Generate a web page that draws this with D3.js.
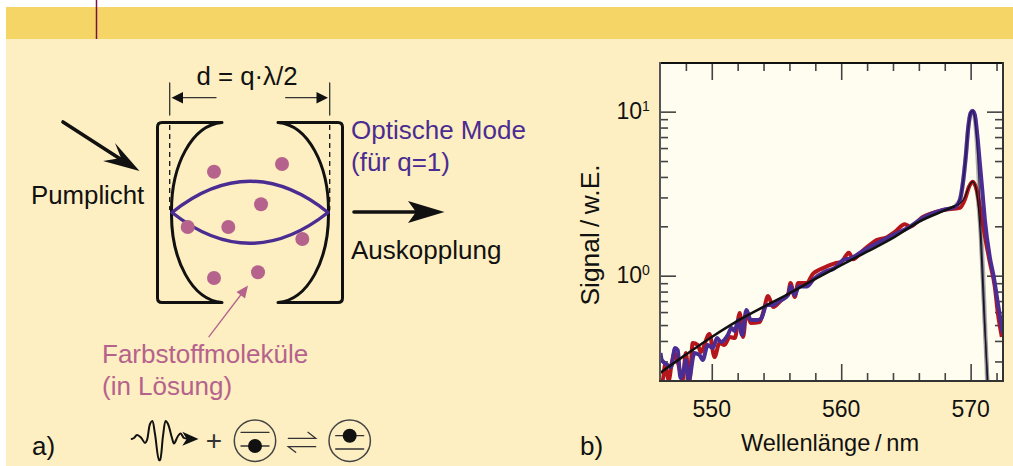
<!DOCTYPE html>
<html>
<head>
<meta charset="utf-8">
<script src="https://cdn.jsdelivr.net/npm/d3@7"></script>
<style>
  html, body { margin: 0; padding: 0; background: #fff; }
  text { font-family: "Liberation Sans", Arial, sans-serif; }
</style>
</head>
<body>
<div id="chart"></div>
<script>
var redWave = [546,546.21,546.39,546.68,546.91,547.12,547.37,547.76,547.99,548.28,548.53,548.92,549.15,549.82,550.21,550.6,550.98,551.39,551.78,552.16,552.42,552.68,553.01,553.71,553.96,554.35,554.74,555.39,555.9,556.08,556.41,556.67,557.32,557.83,558.35,558.73,559.12,559.5,560.02,560.59,560.92,561.57,562.21,562.73,563.5,564.14,564.92,565.3,566.3,567.85,569.17,569.55,569.88,570.15,570.47,570.71,570.94,571.1,571.48,571.87,572.1,572.41];
var redSignal = [0.228,0.231,0.285,0.231,0.294,0.338,0.298,0.231,0.338,0.231,0.389,0.378,0.343,0.441,0.319,0.389,0.378,0.423,0.417,0.593,0.423,0.601,0.515,0.522,0.593,0.752,0.644,0.711,0.773,0.902,0.741,0.902,0.902,1.03,1.09,1.125,1.16,1.19,1.217,1.38,1.26,1.4,1.54,1.65,1.71,1.85,2.06,1.99,2.28,2.51,2.59,2.9,3.49,3.74,3.33,2.63,2.1,1.75,1.21,0.853,0.593,0.423];
var blueWave = [546.04,546.14,546.6,546.85,547.16,547.37,547.58,547.76,548.01,548.22,548.66,549.05,549.3,549.69,550.08,550.41,550.7,551.24,551.52,551.78,552.03,552.34,552.68,553.01,553.58,553.84,554.23,554.74,555.12,555.9,556.1,556.41,556.72,557.34,557.88,558.73,559.5,560.15,560.8,561.2,562.09,563,564,565.15,566.3,567.85,568.78,569.17,569.43,569.62,569.82,570,570.15,570.33,570.5,570.71,570.92,571.1,571.48,571.79,572.1,572.47];
var blueSignal = [0.338,0.306,0.285,0.277,0.362,0.352,0.238,0.248,0.306,0.231,0.338,0.328,0.306,0.378,0.362,0.417,0.394,0.435,0.48,0.46,0.537,0.435,0.618,0.537,0.537,0.552,0.662,0.662,0.692,0.762,0.865,0.762,0.859,0.859,0.955,1.057,1.114,1.247,1.282,1.337,1.475,1.611,1.771,1.954,2.249,2.514,2.623,2.9,3.83,5.3,8.07,9.8,10.1,9.55,7.41,4.87,3.19,2.19,1.3,0.982,0.682,0.448];

// fitted curves: common slope, then one for each peak height
var fitWave = [546,548,550,552,554,556,558,560,562,564,566,568,568.8];
var fitSignal = [0.255,0.33,0.423,0.53,0.645,0.78,0.955,1.16,1.4,1.7,2.13,2.5,2.66];
var lowWave = [568.8,569.17,569.55,569.88,570.15,570.4,570.6,570.75,570.9,571.05,571.32];
var lowSignal = [2.66,2.75,3.0,3.5,3.74,3.45,2.6,1.8,1.0,0.55,0.228];
var highWave = [568.8,569.17,569.43,569.62,569.82,570,570.15,570.33,570.5,570.65,570.8,570.95,571.28];
var highSignal = [2.66,2.9,3.83,5.3,8.07,9.8,10.1,9.0,6.2,3.6,1.9,1.05,0.228];

var xMajor = [550,560,570];
var xMinor = [548,552,554,556,558,562,564,566,568,572];
var yMajor = [1,10];
var yMinor = [0.3,0.4,0.5,0.6,0.7,0.8,0.9,2,3,4,5,6,7,8,9];

var svgWidth = 1013;
var svgHeight = 466;

var colorBlack = "#111";
var colorPurple = "#4a2c92";
var colorPink = "#b5628d";
var colorRed = "#b5161c";

var svg = d3.select("#chart")
  .append("svg")
  .attr("width", svgWidth)
  .attr("height", svgHeight)
  .style("display", "block");

// page background and banner
svg.append("rect").attr("x", 6).attr("y", 7).attr("width", svgWidth - 6).attr("height", svgHeight - 7).attr("fill", "#fdefc1");
svg.append("rect").attr("x", 6).attr("y", 7).attr("width", svgWidth - 6).attr("height", 32).attr("fill", "#f5d565");
svg.append("line").attr("x1", 96.5).attr("x2", 96.5).attr("y1", 0).attr("y2", 39).attr("stroke", "#7d1045").attr("stroke-width", 1.5);

// ---- panel b: spectrum ----
var plot = {left: 660, right: 1003, top: 63, bottom: 381};

var xScale = d3.scaleLinear().domain([546, 572.5]).range([plot.left, plot.right]);
var yScale = d3.scaleLog().domain([0.228, 19.8]).range([plot.bottom, plot.top]);

svg.append("rect")
  .attr("x", plot.left).attr("y", plot.top)
  .attr("width", plot.right - plot.left).attr("height", plot.bottom - plot.top)
  .attr("fill", "#fffdf0");

svg.append("clipPath").attr("id", "plotClip")
  .append("rect")
  .attr("x", plot.left).attr("y", plot.top)
  .attr("width", plot.right - plot.left).attr("height", plot.bottom - plot.top);

// ticks on all four sides, labels are added by hand below
function addTicks(axis, x, y, values, size) {
  var g = svg.append("g")
    .attr("transform", `translate(${x}, ${y})`)
    .call(axis.tickValues(values).tickSize(size).tickFormat(""));
  g.select(".domain").remove();
  g.selectAll("line").attr("stroke", "#444").attr("stroke-width", 1.6);
}

addTicks(d3.axisTop(xScale), 0, plot.bottom, xMajor, 17);
addTicks(d3.axisTop(xScale), 0, plot.bottom, xMinor, 8);
addTicks(d3.axisBottom(xScale), 0, plot.top, xMajor, 17);
addTicks(d3.axisBottom(xScale), 0, plot.top, xMinor, 8);
addTicks(d3.axisRight(yScale), plot.left, 0, yMajor, 16);
addTicks(d3.axisRight(yScale), plot.left, 0, yMinor, 8);
addTicks(d3.axisLeft(yScale), plot.right, 0, yMajor, 16);
addTicks(d3.axisLeft(yScale), plot.right, 0, yMinor, 8);

// zip the wavelength and signal arrays for d3.line
function pairs(wave, signal) {
  return wave.map((d, i) => [d, signal[i]]);
}

var spectrumLine = d3.line()
  .x(d => xScale(d[0]))
  .y(d => yScale(d[1]))
  .curve(d3.curveMonotoneX);

var curves = svg.append("g").attr("clip-path", "url(#plotClip)").attr("fill", "none").attr("stroke-linejoin", "round");

// grey halo of the fits goes under the thin black line
function addCurve(wave, signal, color, width, opacity) {
  curves.append("path")
    .attr("d", spectrumLine(pairs(wave, signal)))
    .attr("stroke", color)
    .attr("stroke-width", width)
    .attr("stroke-opacity", opacity);
}

addCurve(highWave, highSignal, "#777", 4.4, 0.55);
addCurve(lowWave, lowSignal, "#777", 3.6, 0.55);
addCurve(redWave, redSignal, colorRed, 4, 1);
addCurve(blueWave, blueSignal, colorPurple, 4, 1);
addCurve(fitWave, fitSignal, colorBlack, 2.6, 1);
addCurve(lowWave, lowSignal, colorBlack, 1.3, 1);
addCurve(highWave, highSignal, "#1d1440", 1.2, 0.8);

// frame
var frameLines = [
  [plot.left, plot.top, plot.right, plot.top, "#111"],
  [plot.left, plot.top, plot.left, plot.bottom, "#555"],
  [plot.right, plot.top, plot.right, plot.bottom, "#333"],
  [plot.left, plot.bottom, plot.right, plot.bottom, "#333"]
];
svg.selectAll(".frame")
  .data(frameLines)
  .enter()
  .append("line")
  .attr("class", "frame")
  .attr("x1", d => d[0]).attr("y1", d => d[1])
  .attr("x2", d => d[2]).attr("y2", d => d[3])
  .attr("stroke", d => d[4])
  .attr("stroke-width", 2)
  .attr("stroke-linecap", "square");

// small helper for all the text labels
function addText(x, y, str, size, color, anchor) {
  return svg.append("text")
    .attr("x", x).attr("y", y)
    .attr("font-size", size)
    .attr("fill", color || colorBlack)
    .attr("text-anchor", anchor || "start")
    .text(str);
}

xMajor.forEach(function(d) {
  addText(xScale(d), 417, d, 23, colorBlack, "middle");
});

// 10^0 and 10^1 with a real superscript
yMajor.forEach(function(d, i) {
  var y = yScale(d) + 7;
  addText(616.5, y, "10", 23);
  addText(642, y - 8, i, 14);
});

addText(830, 451, "Wellenlänge\u2009/\u2009nm", 23.6, colorBlack, "middle");
svg.append("text")
  .attr("transform", "translate(599, 235) rotate(-90)")
  .attr("text-anchor", "middle")
  .attr("font-size", 26.4)
  .attr("fill", colorBlack)
  .text("Signal\u2009/\u2009w.E.");

addText(580, 455, "b)", 26);
addText(32, 455, "a)", 26);

// ---- panel a: resonator sketch ----
var sketch = svg.append("g").attr("fill", "none").attr("stroke-linecap", "round");

// mirrors
sketch.append("path")
  .attr("d", "M222,122.5 H162 Q157.5,122.5 157.5,127 V298 Q157.5,302.5 162,302.5 H222 M222,122.5 C192,125 171,165 171.5,212.5 C171,260 192,300 222,302.5")
  .attr("stroke", colorBlack).attr("stroke-width", 3);
sketch.append("path")
  .attr("d", "M278,122.5 H338 Q342.5,122.5 342.5,127 V298 Q342.5,302.5 338,302.5 H278 M278,122.5 C308,125 329,165 328.5,212.5 C329,260 308,300 278,302.5")
  .attr("stroke", colorBlack).attr("stroke-width", 3);

// dashed helper lines and the d = ... arrows
sketch.append("path").attr("d", "M169.7,125 V210 M329.7,125 V210")
  .attr("stroke", colorBlack).attr("stroke-width", 1.3).attr("stroke-dasharray", "5,4").attr("stroke-linecap", "butt");
sketch.append("path").attr("d", "M169.7,83 V115 M329.7,83 V115 M216,97.7 H178 M285.7,97.7 H322")
  .attr("stroke", "#333").attr("stroke-width", 1.3);
svg.append("path").attr("d", "M171.5,97.7 L183,92 V103.4 Z M328,97.7 L316.5,92 V103.4 Z").attr("fill", colorBlack);

// optical mode
sketch.append("path").attr("d", "M172,212.5 Q250,150 328,212.5 Q250,274 172,212.5 Z")
  .attr("stroke", colorPurple).attr("stroke-width", 3.4).attr("stroke-linejoin", "round");

// dye molecules
var moleculeX = [214,282,261,228.3,187.7,302.3,214,258];
var moleculeY = [171.7,164,204.3,227,227,239,278,272.3];
svg.selectAll(".molecule")
  .data(moleculeX)
  .enter()
  .append("circle")
  .attr("class", "molecule")
  .attr("cx", d => d)
  .attr("cy", (d, i) => moleculeY[i])
  .attr("r", 7)
  .attr("fill", colorPink);

// pump and output arrows
sketch.append("path").attr("d", "M63,122 L125,162").attr("stroke", colorBlack).attr("stroke-width", 3.6);
svg.append("path").attr("d", "M139.5,171 L115,143 L121,158 L103,161 Z").attr("fill", colorBlack);
sketch.append("path").attr("d", "M354,212 H420").attr("stroke", colorBlack).attr("stroke-width", 3.6);
svg.append("path").attr("d", "M444.5,212 L408,201 L416,212 L408,223 Z").attr("fill", colorBlack);

// arrow from the label to the molecules
sketch.append("path").attr("d", "M209,336.7 L243,292").attr("stroke", colorPink).attr("stroke-width", 1.3);
svg.append("path").attr("d", "M248,285.5 L236.5,292 L245,298.5 Z").attr("fill", colorPink);

addText(247, 85, "d = q·λ/2", 25.8, colorBlack, "middle");
addText(31, 204, "Pumplicht", 25.8);
addText(351, 139, "Optische Mode", 26, colorPurple);
addText(351, 171, "(für q=1)", 26, colorPurple);
addText(351, 259, "Auskopplung", 26);
addText(102, 363, "Farbstoffmoleküle", 26, colorPink);
addText(102, 395, "(in Lösung)", 26, colorPink);

// ---- rate equation under the sketch ----
var pulse = [[131.7,439],[134,438],[137,435],[141,437.5],[145,443],[147,440],[150,424],[152.3,421],[155,434],[159,460],[160,460],[163,436],[165.7,421],[168,424],[172,438],[174,443.5],[178,436],[180.7,433.5],[184,438],[190,439]];
var pulseLine = d3.line().curve(d3.curveCatmullRom);
sketch.append("path").attr("d", pulseLine(pulse)).attr("stroke", colorBlack).attr("stroke-width", 2);
svg.append("path").attr("d", "M198.5,439 L182.3,431.7 L186.7,439 L182.3,445.7 Z").attr("fill", colorBlack);
addText(214, 450, "+", 28, "#333", "middle");

// the two level schemes, ground state and excited state
var levelX = [255, 349.7];
var dotY = [446, 435.7];
var otherY = [432.3, 449];
levelX.forEach(function(cx, i) {
  sketch.append("circle").attr("cx", cx).attr("cy", 440.7).attr("r", 20.7).attr("stroke", "#444").attr("stroke-width", 1.5);
  sketch.append("line").attr("x1", cx - 14).attr("x2", cx + 14).attr("y1", dotY[i]).attr("y2", dotY[i]).attr("stroke", "#333").attr("stroke-width", 1.3);
  sketch.append("line").attr("x1", cx - 14).attr("x2", cx + 14).attr("y1", otherY[i]).attr("y2", otherY[i]).attr("stroke", "#333").attr("stroke-width", 1.3);
  svg.append("circle").attr("cx", cx).attr("cy", dotY[i]).attr("r", 7).attr("fill", colorBlack);
});

sketch.append("path").attr("d", "M288.3,438.3 H315.7 L308,432.3 M315.7,446.7 H288.3 L295.7,452.3")
  .attr("stroke", "#333").attr("stroke-width", 1.3);
</script>
</body>
</html>
